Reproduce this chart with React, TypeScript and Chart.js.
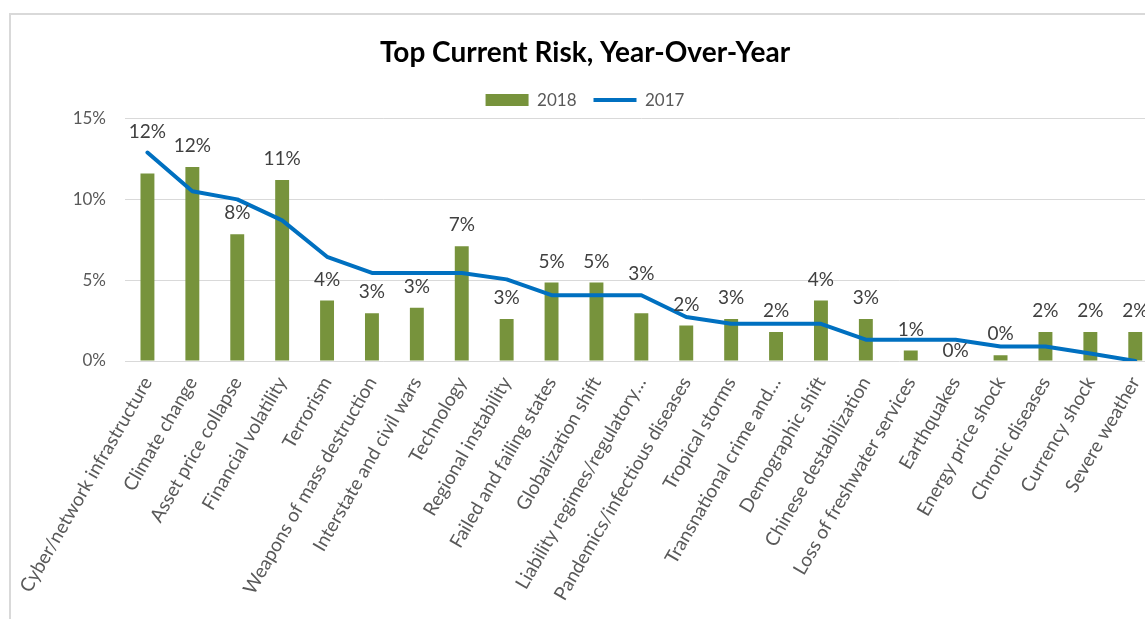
import { useEffect, useRef } from "react";
import { Chart, registerables } from "chart.js";

Chart.register(...registerables);

const categories = [
  "Cyber/network infrastructure",
  "Climate change",
  "Asset price collapse",
  "Financial volatility",
  "Terrorism",
  "Weapons of mass destruction",
  "Interstate and civil wars",
  "Technology",
  "Regional instability",
  "Failed and failing states",
  "Globalization shift",
  "Liability regimes/regulatory…",
  "Pandemics/infectious diseases",
  "Tropical storms",
  "Transnational crime and…",
  "Demographic shift",
  "Chinese destabilization",
  "Loss of freshwater services",
  "Earthquakes",
  "Energy price shock",
  "Chronic diseases",
  "Currency shock",
  "Severe weather",
];

const values2018 = [
  11.6, 12.0, 7.85, 11.2, 3.75, 2.95, 3.3, 7.1, 2.6, 4.85, 4.85, 2.95, 2.2,
  2.6, 1.8, 3.75, 2.6, 0.65, 0, 0.35, 1.8, 1.8, 1.8,
];

const values2017 = [
  12.9, 10.5, 10.0, 8.7, 6.45, 5.45, 5.45, 5.45, 5.05, 4.07, 4.07, 4.07, 2.72,
  2.3, 2.3, 2.3, 1.32, 1.32, 1.32, 0.9, 0.9, 0.47, 0,
];

const yTickValues = [0, 5, 10, 15];
const seriesNames = ["2018", "2017"];
const chartTitle = "Top Current Risk, Year-Over-Year";

const FONT = "Lato, 'Open Sans', sans-serif";

const barLabelPlugin = {
  id: "barLabels",
  afterDatasetsDraw(chart: any) {
    const barMeta = chart.getDatasetMeta(0);
    const lineMeta = chart.getDatasetMeta(1);
    const yScale = chart.scales.y;
    const ctx = chart.ctx;
    ctx.save();
    ctx.font = `19px ${FONT}`;
    ctx.fillStyle = "#404040";
    ctx.textAlign = "center";
    ctx.textBaseline = "middle";
    barMeta.data.forEach((el: any, i: number) => {
      const v = values2018[i];
      const text = Math.round(v) + "%";
      let y: number;
      if (v === 0) {
        y = yScale.getPixelForValue(0) - 10;
      } else {
        y = el.y - 21;
        const ly = lineMeta.data[i].y;
        if (Math.abs(y - ly) < 8) y = ly - 21;
      }
      ctx.fillText(text, el.x, y);
    });
    ctx.restore();
  },
};

export default function App() {
  const ref = useRef<HTMLCanvasElement>(null);

  useEffect(() => {
    const chart = new Chart(ref.current!, {
      type: "bar",
      data: {
        labels: categories,
        datasets: [
          {
            type: "bar",
            label: seriesNames[0],
            data: values2018,
            backgroundColor: "#77933c",
            borderWidth: 0,
            categoryPercentage: 0.31,
            barPercentage: 1,
            pointStyle: "rect",
            order: 1,
          } as any,
          {
            type: "line",
            label: seriesNames[1],
            data: values2017,
            borderColor: "#0070c0",
            backgroundColor: "#0070c0",
            borderWidth: 4,
            pointRadius: 0,
            tension: 0,
            borderJoinStyle: "round",
            borderCapStyle: "round",
            pointStyle: "line",
            order: 0,
          } as any,
        ],
      },
      options: {
        responsive: false,
        animation: false,
        devicePixelRatio: 1,
        layout: { padding: 0 },
        plugins: {
          title: {
            display: true,
            text: chartTitle,
            color: "#000000",
            font: { family: FONT, size: 28, weight: "bold", lineHeight: 1.2 },
            padding: { top: 21, bottom: 5 },
          },
          legend: {
            display: true,
            position: "top",
            labels: {
              usePointStyle: true,
              pointStyleWidth: 43,
              boxHeight: 12,
              padding: 17,
              color: "#595959",
              font: { family: FONT, size: 17 },
              sort: (a: any, b: any) => a.datasetIndex - b.datasetIndex,
            },
          },
          tooltip: { enabled: false },
        },
        scales: {
          x: {
            grid: { display: false },
            border: { display: false },
            ticks: {
              autoSkip: false,
              minRotation: 60,
              maxRotation: 60,
              color: "#595959",
              font: { family: FONT, size: 19 },
              padding: 4,
            },
            afterFit: (s: any) => {
              s.height = 258;
            },
          },
          y: {
            min: 0,
            max: 15,
            afterBuildTicks: (s: any) => {
              s.ticks = yTickValues.map((v) => ({ value: v }));
            },
            grid: { color: "#d9d9d9", lineWidth: 1, drawTicks: false },
            border: { display: false },
            ticks: {
              color: "#595959",
              font: { family: FONT, size: 17 },
              padding: 19,
              callback: (v: any) => v + "%",
            },
            afterFit: (s: any) => {
              s.width = 114;
            },
          },
        },
      },
      plugins: [barLabelPlugin],
    });
    return () => chart.destroy();
  }, []);

  return (
    <div
      style={{
        position: "fixed",
        left: 0,
        top: 0,
        width: 1145,
        height: 619,
        overflow: "hidden",
        background: "#ffffff",
      }}
    >
      <div
        style={{
          position: "absolute",
          left: 9,
          top: 13,
          width: 1160,
          height: 700,
          border: "2px solid #d9d9d9",
          background: "#ffffff",
        }}
      >
        <canvas ref={ref} width={1148} height={604} style={{ display: "block" }} />
      </div>
    </div>
  );
}
